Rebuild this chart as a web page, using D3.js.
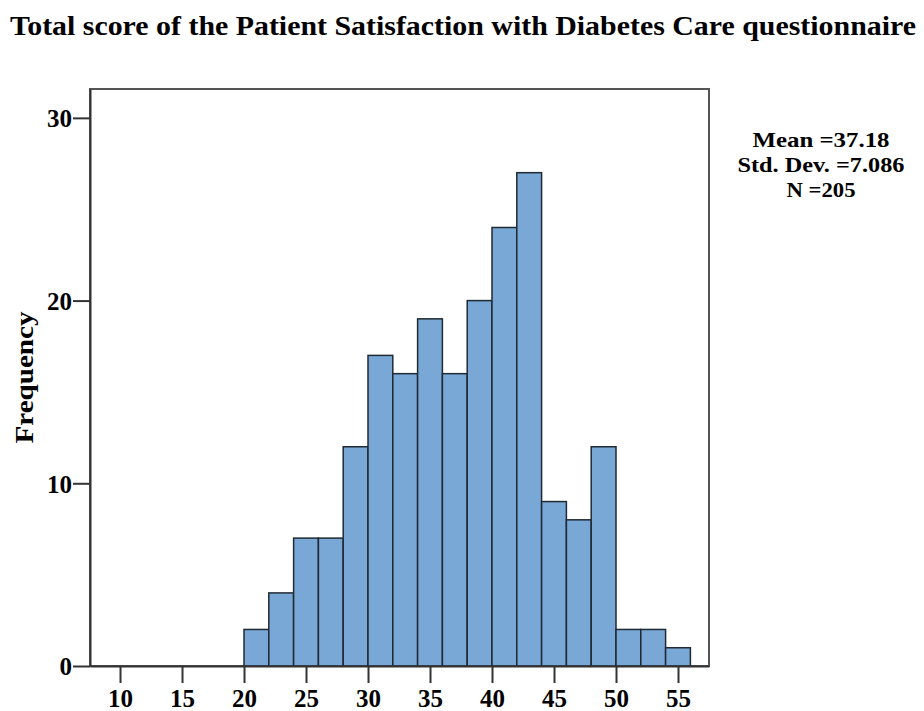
<!DOCTYPE html>
<html>
<head>
<meta charset="utf-8">
<script src="https://cdn.jsdelivr.net/npm/d3@7"></script>
<style>
  body { margin: 0; background: #fff; }
  svg text { font-family: "Liberation Serif", "Times New Roman", serif; font-weight: bold; fill: #000; }
</style>
</head>
<body>
<svg id="chart" width="924" height="711"></svg>
<script>
// ── Data ──────────────────────────────────────────────────────────────────────
const binStarts = [20, 22, 24, 26, 28, 30, 32, 34, 36, 38, 40, 42, 44, 46, 48, 50, 52, 54];
const binEnds   = [22, 24, 26, 28, 30, 32, 34, 36, 38, 40, 42, 44, 46, 48, 50, 52, 54, 56];
const counts    = [2, 4, 7, 7, 12, 17, 16, 19, 16, 20, 24, 27, 9, 8, 12, 2, 2, 1];
const xTicks    = [10, 15, 20, 25, 30, 35, 40, 45, 50, 55];
const yTicks    = [0, 10, 20, 30];
const statLines = ['Mean =37.18', 'Std. Dev. =7.086', 'N =205'];
const statWidth = [137, 167, 69];

// ── Layout ────────────────────────────────────────────────────────────────────
const PLOT = { left: 90, right: 709, top: 89, bottom: 666 };
const BAR_FILL = '#79a8d7';

const svg = d3.select('#chart');

const x = d3.scaleLinear().domain([7.58, 57.5]).range([PLOT.left, PLOT.right]);
const y = d3.scaleLinear().domain([0, 31.58]).range([PLOT.bottom, PLOT.top]);

// Title (source figure is vertically stretched, so text is condensed)
svg.append('text')
  .attr('x', 10).attr('y', 35)
  .attr('font-size', 28)
  .attr('textLength', 906)
  .attr('lengthAdjust', 'spacingAndGlyphs')
  .text('Total score of the Patient Satisfaction with Diabetes Care questionnaire');

// Frame
svg.append('rect')
  .attr('x', PLOT.left).attr('y', PLOT.top)
  .attr('width', PLOT.right - PLOT.left)
  .attr('height', PLOT.bottom - PLOT.top)
  .attr('fill', 'none')
  .attr('stroke', '#555')
  .attr('stroke-width', 2);

// Bars
const data = counts.map((c, i) => ({ x0: binStarts[i], x1: binEnds[i], n: c }));
svg.append('g')
  .selectAll('rect')
  .data(data)
  .join('rect')
  .attr('x', d => x(d.x0))
  .attr('y', d => y(d.n))
  .attr('width', d => x(d.x1) - x(d.x0))
  .attr('height', d => y(0) - y(d.n))
  .attr('fill', BAR_FILL)
  .attr('stroke', '#1f2a33')
  .attr('stroke-width', 1.5);

// ── Axes ──────────────────────────────────────────────────────────────────────
const xAxis = svg.append('g')
  .attr('transform', `translate(0,${PLOT.bottom})`)
  .call(d3.axisBottom(x).tickValues(xTicks).tickSize(17).tickSizeOuter(0).tickPadding(6));
const yAxis = svg.append('g')
  .attr('transform', `translate(${PLOT.left},0)`)
  .call(d3.axisLeft(y).tickValues(yTicks).tickSize(17).tickSizeOuter(0).tickPadding(1));

[xAxis, yAxis].forEach(ax => {
  ax.select('.domain').attr('stroke', '#333').attr('stroke-width', 2);
  ax.selectAll('.tick line').attr('stroke', '#333').attr('stroke-width', 2);
  ax.selectAll('.tick text')
    .attr('font-family', '"Liberation Serif", "Times New Roman", serif')
    .attr('font-weight', 'bold')
    .attr('font-size', 25)
    .attr('fill', '#000');
});
yAxis.selectAll('.tick text').attr('dy', '0.35em');

// Y-axis label
svg.append('text')
  .attr('transform', `translate(33,${(PLOT.top + PLOT.bottom) / 2}) rotate(-90)`)
  .attr('text-anchor', 'middle')
  .attr('font-size', 26)
  .attr('textLength', 132)
  .attr('lengthAdjust', 'spacingAndGlyphs')
  .text('Frequency');

// Stats box
svg.append('g')
  .selectAll('text')
  .data(statLines)
  .join('text')
  .attr('x', 821)
  .attr('y', (d, i) => 147 + i * 25)
  .attr('text-anchor', 'middle')
  .attr('font-size', 21)
  .attr('textLength', (d, i) => statWidth[i])
  .attr('lengthAdjust', 'spacingAndGlyphs')
  .text(d => d);
</script>
</body>
</html>
